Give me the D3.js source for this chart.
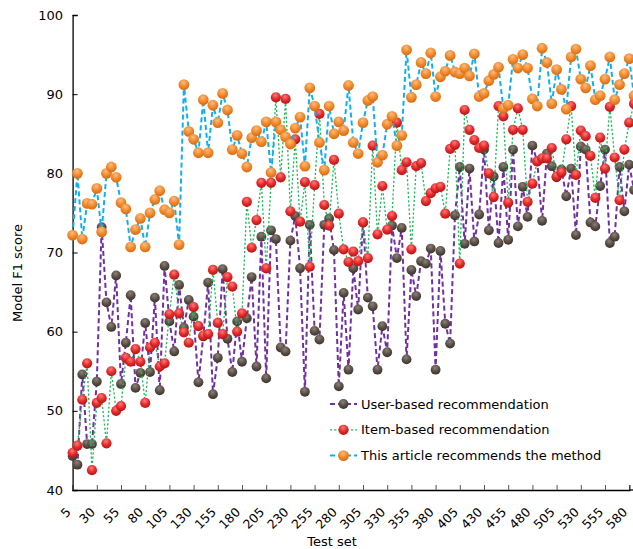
<!DOCTYPE html>
<html>
<head>
<meta charset="utf-8">
<script src="https://cdn.jsdelivr.net/npm/d3@7"></script>
<style>
  body { margin: 0; background: #fff; }
  svg { display: block; font-family: "DejaVu Sans", Verdana, sans-serif; }
  .axis-text { font-size: 13px; fill: #000; }
</style>
</head>
<body>
<script>
// test set numbers on the x axis (5, 10, 15 ... 585)
var testSets = d3.range(5, 590, 5);
var xTicks = [5, 30, 55, 80, 105, 130, 155, 180, 205, 230, 255, 280, 305, 330, 355, 380, 405, 430, 455, 480, 505, 530, 555, 580];
var yTicks = [40, 50, 60, 70, 80, 90, 100];

var userBased = [
  44.3, 43.2, 54.6, 45.8, 45.8, 53.7, 73.2, 63.7, 60.6, 67.1,
  53.4, 58.6, 64.6, 52.9, 54.8, 61.1, 54.9, 64.3, 52.6, 68.3,
  61.3, 57.5, 65.9, 60.5, 64.0, 61.9, 53.6, 59.4, 66.2, 52.1,
  56.7, 67.9, 59.1, 54.9, 61.3, 56.2, 61.7, 66.9, 55.6, 72.0,
  54.1, 72.8, 71.7, 58.0, 57.5, 71.5, 74.6, 68.0, 52.4, 73.5,
  60.1, 59.0, 73.5, 74.3, 70.3, 53.1, 64.9, 55.2, 68.0, 62.8,
  73.8, 64.3, 63.2, 55.2, 60.7, 57.4, 73.4, 69.3, 73.1, 56.5,
  67.8, 64.5, 68.9, 68.6, 70.5, 55.2, 70.2, 61.0, 58.5, 74.7,
  80.8, 71.1, 80.6, 71.4, 74.8, 83.0, 72.8, 79.6, 71.2, 80.8,
  71.6, 83.0, 73.3, 78.3, 74.5, 83.5, 81.5, 74.0, 82.5, 80.9,
  79.5, 80.5, 77.1, 80.6, 72.2, 83.4, 83.0, 73.8, 73.3, 78.4,
  83.0, 71.2, 72.0, 80.8, 75.2, 81.1, 77.9
];

var itemBased = [
  44.7, 45.6, 51.4, 56.0, 42.5, 51.0, 51.6, 45.9, 55.0, 50.0,
  50.6, 56.7, 56.2, 57.8, 56.2, 51.0, 58.0, 58.6, 55.6, 56.0,
  62.2, 67.2, 62.3, 59.9, 58.6, 63.1, 60.7, 59.5, 59.7, 67.8,
  61.1, 59.7, 66.9, 65.7, 60.0, 62.3, 76.4, 70.6, 74.1, 78.8,
  68.0, 78.8, 89.6, 79.5, 89.4, 75.2, 84.3, 73.9, 78.9, 68.2,
  78.5, 87.5, 76.0, 73.4, 81.7, 74.9, 70.4, 68.8, 70.1, 68.9,
  73.8, 69.3, 83.5, 72.3, 78.4, 72.9, 74.6, 86.4, 80.4, 81.4,
  70.4, 80.9, 81.3, 76.5, 77.5, 78.1, 78.3, 74.9, 83.1, 83.6,
  68.6, 88.0, 85.5, 84.2, 83.2, 83.5, 80.0, 77.0, 88.5, 87.2,
  76.3, 85.5, 88.2, 85.5, 76.4, 78.7, 81.5, 81.9, 81.9, 83.2,
  79.6, 80.1, 84.3, 88.5, 79.8, 85.4, 84.7, 82.2, 76.9, 84.5,
  80.6, 88.4, 82.0, 76.6, 83.0, 86.4, 88.8
];

var thisArticle = [
  72.2, 80.0, 71.7, 76.2, 76.1, 78.1, 72.6, 80.0, 80.8, 79.5,
  76.3, 75.5, 70.7, 72.9, 74.3, 70.7, 75.0, 76.7, 77.8, 75.4,
  75.0, 76.5, 71.0, 91.2, 85.3, 84.3, 82.6, 89.3, 82.6, 88.6,
  86.4, 90.1, 88.0, 83.0, 84.8, 82.5, 80.8, 84.5, 85.4, 84.0,
  86.5, 80.1, 86.5, 85.5, 84.6, 83.7, 85.7, 87.1, 80.9, 90.8,
  88.5, 83.9, 80.4, 88.5, 85.0, 86.5, 85.4, 91.1, 83.9, 82.5,
  86.4, 89.2, 89.7, 81.4, 82.3, 86.2, 87.2, 83.5, 84.8, 95.6,
  89.6, 91.2, 94.0, 92.6, 95.2, 89.7, 92.2, 92.9, 94.9, 92.8,
  92.6, 93.3, 92.3, 95.1, 89.7, 90.1, 91.7, 92.5, 93.4, 88.2,
  88.6, 94.4, 93.3, 95.0, 93.3, 89.4, 88.5, 95.8, 94.0, 88.8,
  93.1, 90.6, 88.1, 94.7, 95.7, 91.9, 90.8, 93.6, 89.3, 89.8,
  91.9, 94.7, 89.3, 91.2, 92.6, 94.5, 89.8
];

var seriesNames = ['User-based recommendation', 'Item-based recommendation', 'This article recommends the method'];

var width = 633, height = 549;
var margin = { left: 72.6, top: 15, bottom: 59 };

var svg = d3.select('body')
  .append('svg')
  .attr('width', width)
  .attr('height', height);

var x = d3.scaleLinear().domain([5, 580]).range([margin.left, 629.2]);
var y = d3.scaleLinear().domain([40, 100]).range([height - margin.bottom, margin.top]);

var series = [
  { name: seriesNames[0], values: userBased, stroke: '#7030a0', width: 2, dash: '5,3', r: 4.9,
    grad: ['#8c8178', '#5b5047', '#3a322b'] },
  { name: seriesNames[1], values: itemBased, stroke: '#22b65a', width: 1.3, dash: '2.2,2', r: 5.1,
    grad: ['#ff7a7a', '#e32a2a', '#b21616'] },
  { name: seriesNames[2], values: thisArticle, stroke: '#12aff0', width: 2, dash: '5,3', r: 5.4,
    grad: ['#ffbb80', '#f08a2c', '#d46c12'] }
];

function makeGradients() {
  var defs = svg.append('defs');
  series.forEach(function (s, i) {
    var g = defs.append('radialGradient')
      .attr('id', 'ball' + i)
      .attr('cx', '45%').attr('cy', '30%').attr('r', '70%');
    g.append('stop').attr('offset', '0%').attr('stop-color', s.grad[0]);
    g.append('stop').attr('offset', '55%').attr('stop-color', s.grad[1]);
    g.append('stop').attr('offset', '100%').attr('stop-color', s.grad[2]);
  });
}

function makeAxes() {
  var yAxis = svg.append('g')
    .attr('transform', 'translate(' + margin.left + ',0)')
    .call(d3.axisRight(y).tickValues(yTicks).tickSize(5).tickFormat(''));
  yAxis.select('.domain').attr('stroke', '#000').attr('stroke-width', 1.3);
  yAxis.selectAll('.tick line').attr('stroke', '#000');

  svg.append('g').selectAll('text')
    .data(yTicks)
    .enter()
    .append('text')
    .attr('class', 'axis-text')
    .attr('x', 63)
    .attr('y', function (d) { return y(d); })
    .attr('dy', '0.35em')
    .attr('text-anchor', 'end')
    .text(function (d) { return d; });

  var xAxis = svg.append('g')
    .attr('transform', 'translate(0,' + y(40) + ')')
    .call(d3.axisTop(x).tickValues(xTicks).tickSize(5).tickFormat(''));
  xAxis.select('.domain').attr('stroke', '#000').attr('stroke-width', 1.3);
  xAxis.selectAll('.tick line').attr('stroke', '#555');
  svg.append('line')
    .attr('x1', x(580)).attr('x2', width)
    .attr('y1', y(40)).attr('y2', y(40))
    .attr('stroke', '#000').attr('stroke-width', 1.3);

  // rotated tick labels, right end sits just under the tick
  svg.append('g').selectAll('text')
    .data(xTicks)
    .enter()
    .append('text')
    .attr('class', 'axis-text')
    .style('font-size', '12.5px')
    .attr('text-anchor', 'end')
    .attr('transform', function (d) { return 'translate(' + (x(d) - 1) + ',' + (y(40) + 23) + ') rotate(-45)'; })
    .text(function (d) { return d; });

  svg.append('text')
    .attr('class', 'axis-text')
    .attr('x', 332)
    .attr('y', 546)
    .attr('text-anchor', 'middle')
    .text('Test set');

  svg.append('text')
    .attr('class', 'axis-text')
    .attr('text-anchor', 'middle')
    .attr('transform', 'translate(22,' + 273 + ') rotate(-90)')
    .text('Model F1 score');
}

function makeSeries() {
  var line = d3.line()
    .x(function (d, i) { return x(testSets[i]); })
    .y(function (d) { return y(d); });

  series.forEach(function (s, si) {
    var g = svg.append('g');
    g.append('path')
      .datum(s.values)
      .attr('d', line)
      .attr('fill', 'none')
      .attr('stroke', s.stroke)
      .attr('stroke-width', s.width)
      .attr('stroke-dasharray', s.dash);

    g.selectAll('circle')
      .data(s.values)
      .enter()
      .append('circle')
      .attr('cx', function (d, i) { return x(testSets[i]); })
      .attr('cy', function (d) { return y(d); })
      .attr('r', s.r)
      .attr('fill', 'url(#ball' + si + ')');
  });
}

function makeLegend() {
  var legend = svg.append('g').attr('transform', 'translate(330,404)');
  var rows = legend.selectAll('g')
    .data(series)
    .enter()
    .append('g')
    .attr('transform', function (d, i) { return 'translate(0,' + (i * 25.8) + ')'; });

  rows.append('line')
    .attr('x1', 0).attr('x2', 27)
    .attr('stroke', function (d) { return d.stroke; })
    .attr('stroke-width', function (d) { return d.width; })
    .attr('stroke-dasharray', function (d) { return d.dash; });
  rows.append('circle')
    .attr('cx', 13.5)
    .attr('r', function (d) { return d.r; })
    .attr('fill', function (d, i) { return 'url(#ball' + i + ')'; });
  rows.append('text')
    .attr('class', 'axis-text')
    .attr('x', 31)
    .attr('dy', '0.36em')
    .text(function (d) { return d.name; });
}

makeGradients();
makeAxes();
makeSeries();
makeLegend();
</script>
</body>
</html>
